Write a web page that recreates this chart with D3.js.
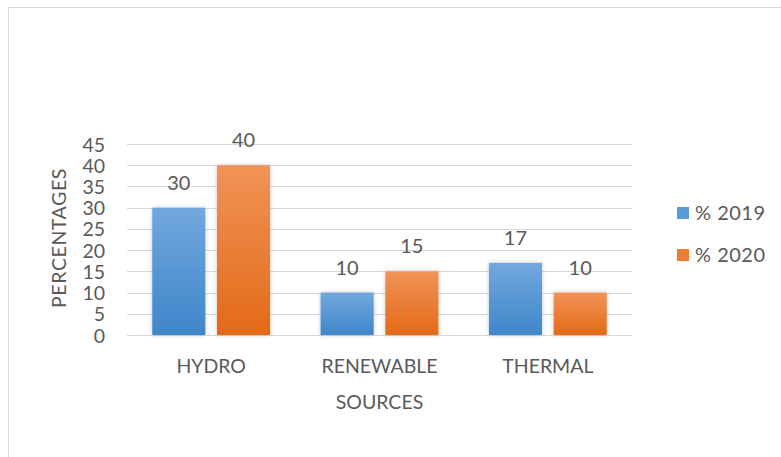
<!DOCTYPE html>
<html>
<head>
<meta charset="utf-8">
<script src="https://cdn.jsdelivr.net/npm/d3@7"></script>
<style>
  html, body { margin: 0; padding: 0; background: #fff; }
  svg { display: block; }
  text { font-family: Lato, "Open Sans", "Liberation Sans", sans-serif; fill: #595959; }
</style>
</head>
<body>
<svg id="chart" width="781" height="457"></svg>
<script>
// Share of generation by source, two years
const categories = ["HYDRO", "RENEWABLE", "THERMAL"];
const seriesNames = ["% 2019", "% 2020"];
const values2019 = [30, 10, 17];
const values2020 = [40, 15, 10];
const yTicks = [0, 5, 10, 15, 20, 25, 30, 35, 40, 45];
const yTitle = "PERCENTAGES";
const xTitle = "SOURCES";

const svg = d3.select("#chart");
const W = 781, H = 457;

// outer chart frame
svg.append("rect").attr("x", 8.5).attr("y", 7.5).attr("width", W).attr("height", H)
  .attr("fill", "#fff").attr("stroke", "#d9d9d9").attr("stroke-width", 1);

const defs = svg.append("defs");
const grads = [
  { id: "gBlue", top: "#72a8de", bottom: "#3f86ca" },
  { id: "gOrange", top: "#f19358", bottom: "#e36a17" }
];
grads.forEach(g => {
  const lg = defs.append("linearGradient").attr("id", g.id)
    .attr("x1", 0).attr("y1", 0).attr("x2", 0).attr("y2", 1);
  lg.append("stop").attr("offset", "0%").attr("stop-color", g.top);
  lg.append("stop").attr("offset", "100%").attr("stop-color", g.bottom);
});
const f = defs.append("filter").attr("id", "shadow")
  .attr("x", "-30%").attr("y", "-30%").attr("width", "160%").attr("height", "160%");
f.append("feDropShadow").attr("dx", 0).attr("dy", 0).attr("stdDeviation", 2)
  .attr("flood-color", "#000").attr("flood-opacity", 0.22);

const plot = { left: 127, right: 632, top: 144, bottom: 335 };

const x = d3.scaleBand().domain(categories).range([plot.left, plot.right]).paddingInner(0).paddingOuter(0);
const x1 = d3.scaleBand().domain(seriesNames).range([0, x.bandwidth()]).paddingInner(0.18).paddingOuter(0.39);
const y = d3.scaleLinear().domain([0, 45]).range([plot.bottom, plot.top]);

// gridlines
svg.append("g").selectAll("line").data(yTicks).join("line")
  .attr("x1", plot.left).attr("x2", plot.right)
  .attr("y1", d => Math.round(y(d)) + 0.5).attr("y2", d => Math.round(y(d)) + 0.5)
  .attr("stroke", "#d9d9d9").attr("stroke-width", 1);

// y tick labels
const yAxis = d3.axisLeft(y).tickValues(yTicks).tickSize(0).tickPadding(0);
const ya = svg.append("g").attr("transform", `translate(105,0)`).call(yAxis);
ya.select(".domain").remove();
ya.selectAll("text").attr("font-size", 19.5).style("font-family", "Lato, 'Open Sans', sans-serif")
  .attr("fill", "#595959").attr("dy", "0.36em");

// y title
svg.append("text").attr("transform", `translate(65.5,238) rotate(-90)`)
  .attr("text-anchor", "middle").attr("font-size", 19.5).attr("letter-spacing", 0.6).text(yTitle);

// bars
const series = [
  { name: seriesNames[0], values: values2019, fill: "url(#gBlue)", swatch: "#5b9bd5" },
  { name: seriesNames[1], values: values2020, fill: "url(#gOrange)", swatch: "#ed7d31" }
];
const groups = svg.append("g").selectAll("g").data(categories).join("g")
  .attr("transform", d => `translate(${x(d)},0)`);
groups.each(function (cat, i) {
  const g = d3.select(this);
  series.forEach(s => {
    const v = s.values[i];
    g.append("rect")
      .attr("x", x1(s.name)).attr("width", x1.bandwidth())
      .attr("y", y(v)).attr("height", y(0) - y(v))
      .attr("fill", s.fill).attr("filter", "url(#shadow)");
    g.append("text")
      .attr("x", x1(s.name) + x1.bandwidth() / 2).attr("y", y(v) - 18)
      .attr("text-anchor", "middle").attr("font-size", 20).text(v);
  });
});

// category labels
const xAxis = d3.axisBottom(x).tickSize(0).tickPadding(0);
const xa = svg.append("g").attr("transform", `translate(0,${plot.bottom + 31})`).call(xAxis);
xa.select(".domain").remove();
xa.selectAll("text").attr("font-size", 19.5).style("font-family", "Lato, 'Open Sans', sans-serif")
  .attr("fill", "#595959").attr("dy", "0.36em");

// x title
svg.append("text").attr("x", x("RENEWABLE") + x.bandwidth() / 2).attr("y", plot.bottom + 74)
  .attr("text-anchor", "middle").attr("font-size", 19.5).text(xTitle);

// legend
const legend = svg.append("g").selectAll("g").data(series).join("g")
  .attr("transform", (d, i) => `translate(677,${207 + i * 42})`);
legend.append("rect").attr("width", 12).attr("height", 12).attr("fill", d => d.swatch);
legend.append("text").attr("x", 18).attr("y", 6).attr("dy", "0.36em")
  .attr("font-size", 20).attr("letter-spacing", 0.5).text(d => d.name);
</script>
</body>
</html>
